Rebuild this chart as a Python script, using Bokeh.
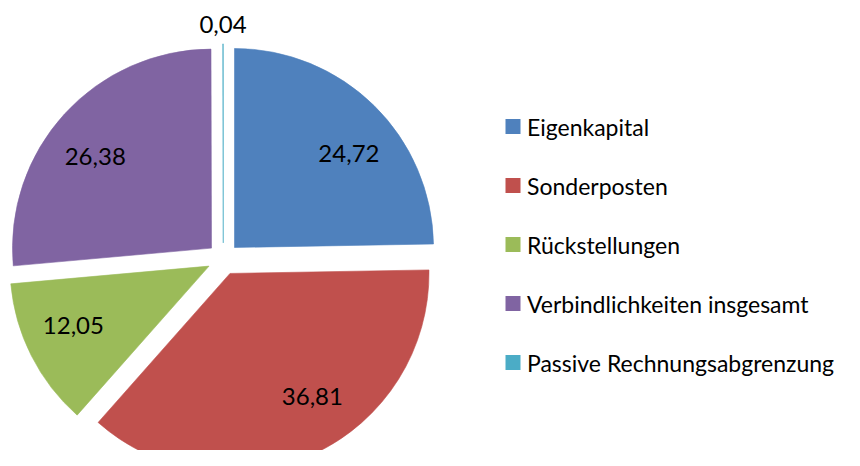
import math
from bokeh.plotting import figure
from bokeh.models import Range1d, ColumnDataSource
from bokeh.core.properties import value
from bokeh.embed import file_html
from bokeh.resources import INLINE

categories = ["Eigenkapital", "Sonderposten", "Rückstellungen",
              "Verbindlichkeiten insgesamt", "Passive Rechnungsabgrenzung"]
values = [24.72, 36.81, 12.05, 26.38, 0.04]
labels = ["24,72", "36,81", "12,05", "26,38", "0,04"]
colors = ["#4F81BD", "#C0504D", "#9BBB59", "#8064A2", "#4BACC6"]

# layout (picture-pixel based data units)
W, H = 844, 450
CX, CY = 222.8, -258.4   # pie centre
R = 199.0
EXPLODE = 16.0
LABEL_IN = 0.745
LABEL_OUT = 1.1
LABEL_NUDGE_DEG = [6, -9, 3, -4, 0]   # label placement fine-tuning
FONT = "Lato"
FS_LEG = "23px"
FS_LAB = "24px"

p = figure(width=W, height=H, output_backend="svg", toolbar_location=None,
           x_range=Range1d(0, W), y_range=Range1d(-H, 0),
           min_border=0)
p.xaxis.visible = False
p.yaxis.visible = False
p.grid.visible = False
p.outline_line_color = None
p.background_fill_color = None
p.border_fill_color = "white"

total = sum(values)
cum = 0.0
xs, ys, starts, ends, lx, ly = [], [], [], [], [], []
for v, nudge in zip(values, LABEL_NUDGE_DEG):
    a0 = cum / total
    a1 = (cum + v) / total
    cum += v
    mid = (a0 + a1) / 2 * 2 * math.pi   # clockwise from top
    dx, dy = math.sin(mid), math.cos(mid)
    cx = CX + EXPLODE * dx
    cy = CY + EXPLODE * dy
    xs.append(cx)
    ys.append(cy)
    starts.append(math.pi / 2 - a1 * 2 * math.pi)
    ends.append(math.pi / 2 - a0 * 2 * math.pi)
    f = LABEL_IN if v / total > 0.01 else LABEL_OUT
    lm = mid + math.radians(nudge)
    lx.append(cx + f * R * math.sin(lm))
    ly.append(cy + f * R * math.cos(lm))

src = ColumnDataSource(dict(x=xs, y=ys, start=starts, end=ends, color=colors,
                            lx=lx, ly=ly, label=labels))
p.wedge(x="x", y="y", radius=R, start_angle="start", end_angle="end",
        fill_color="color", line_color="color", line_width=0.6, source=src)
p.text(x="lx", y="ly", text="label", text_align="center", text_baseline="middle",
       text_font=value(FONT), text_font_size=FS_LAB, text_color="#000000", source=src)

# legend drawn manually
LEG_X = 512.5
LEG_Y0 = -126
LEG_STEP = 59
leg_y = [LEG_Y0 - i * LEG_STEP for i in range(len(categories))]
leg = ColumnDataSource(dict(x=[LEG_X] * len(categories), y=leg_y, color=colors,
                            tx=[LEG_X + 14] * len(categories), label=categories))
p.rect(x="x", y="y", width=15, height=15, fill_color="color", line_color=None, source=leg)
p.text(x="tx", y="y", text="label", text_align="left", text_baseline="middle",
       text_font=value(FONT), text_font_size=FS_LEG, text_color="#000000", source=leg)

open("out.html", "w").write(file_html(p, INLINE))
